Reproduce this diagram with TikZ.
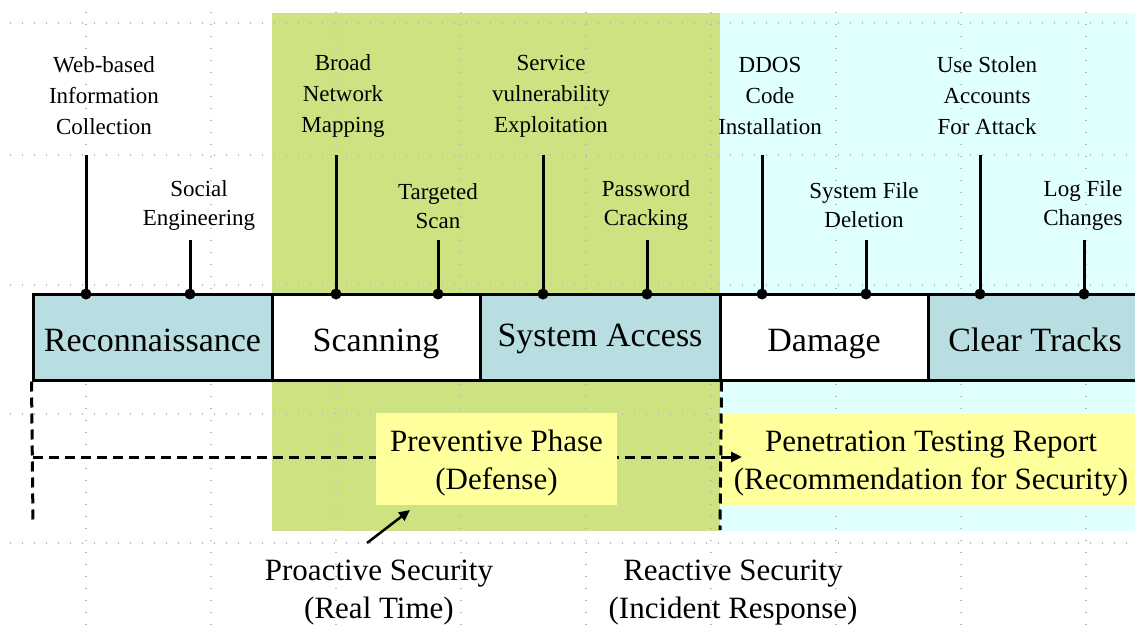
\documentclass[tikz,border=0pt]{standalone}
\usepackage{fontspec}
\setmainfont{Liberation Serif}
\usetikzlibrary{arrows.meta}
\definecolor{greenbg}{RGB}{205,227,130}
\definecolor{cyanbg}{RGB}{224,255,255}
\definecolor{phaseblue}{RGB}{185,222,226}
\definecolor{yellowbox}{RGB}{255,255,155}
\definecolor{gridgray}{RGB}{185,185,185}
\begin{document}
\begin{tikzpicture}[x=1pt,y=-1pt,
 phase/.style={draw=black,line width=3pt,minimum height=86pt,inner sep=0pt,
   font=\fontsize{34}{40}\selectfont,text height=28pt,text depth=0pt},
 toplbl/.style={align=center,font=\fontsize{23}{31}\selectfont,inner sep=0pt},
 lowlbl/.style={align=center,font=\fontsize{23}{29}\selectfont,inner sep=0pt},
 tickline/.style={line width=3pt},
 gridline/.style={gridgray,line width=1.3pt,dash pattern=on 1.3pt off 10.7pt},
 dashline/.style={line width=3pt,dash pattern=on 10pt off 6pt},
 ybox/.style={fill=yellowbox,inner sep=0pt,align=center,font=\fontsize{31}{38}\selectfont,
   minimum height=92pt},
 seclbl/.style={align=center,font=\fontsize{31}{38}\selectfont,inner sep=0pt}]

\useasboundingbox (0,0) rectangle (1135,631);
\fill[white] (0,0) rectangle (1135,631);

% backgrounds
\fill[greenbg] (272,13) rectangle (720,531);
\fill[cyanbg] (720,13) rectangle (1135,531);

% grid
\foreach \y in {23,155,285,414,543} \draw[gridline] (10,\y) -- (1135,\y);
\foreach \x in {86,211,336,461,586,711,836,961,1086} \draw[gridline] (\x,12) -- (\x,631);

% ticks
\foreach \i/\x/\t in {1/86/155,2/190/240,3/336/155,4/438/240,5/543/155,6/647/240,7/762/155,8/866/240,9/980/155,10/1084/240}{
  \coordinate (ta\i) at (\x,\t);
  \coordinate (tb\i) at (\x,294);
  \draw[tickline] (ta\i) -- (tb\i);
}

% phase boxes
\node[phase,fill=phaseblue,minimum width=239pt] (recon) at (152.5,337) {Reconnaissance};
\node[phase,fill=white,minimum width=208pt] (scan) at (376,337) {Scanning};
\node[phase,fill=phaseblue,minimum width=240pt,text height=18pt] (sys) at (600,337) {System Access};
\node[phase,fill=white,minimum width=208pt] (dmg) at (824,337) {Damage};
\node[phase,fill=phaseblue,minimum width=214pt] (clear) at (1035,337) {Clear Tracks};

\foreach \i in {1,...,10} \fill (tb\i) circle (5.5);

% tick labels
\node[toplbl] (l1) at (104,96) {Web-based\\Information\\Collection};
\node[lowlbl] (l2) at (199,206) {Social\\Engineering};
\node[toplbl] (l3) at (343,96) {Broad\\Network\\Mapping};
\node[lowlbl] (l4) at (438,206) {Targeted\\Scan};
\node[toplbl] (l5) at (551,96) {Service\\vulnerability\\Exploitation};
\node[lowlbl] (l6) at (646,206) {Password\\Cracking};
\node[toplbl] (l7) at (770,96) {DDOS\\Code\\Installation};
\node[lowlbl] (l8) at (864,205) {System File\\Deletion};
\node[toplbl] (l9) at (987,96) {Use Stolen\\Accounts\\For Attack};
\node[lowlbl] (l10) at (1083,206) {Log File\\Changes};

% report box
\node[ybox,minimum width=422pt] (pen) at (931,459) {\rule{0pt}{29pt}Penetration Testing Report\\(Recommendation for Security)};

% dashed lines
\coordinate (dA) at (33,522);
\coordinate (dB) at (33,457);
\coordinate (dC) at (742,457);
\coordinate (dD) at (720,530);
\draw[dashline] (recon.south west) -- (dA);
\draw[dashline,-{Triangle[length=11pt,width=10pt]}] (dB) -- (dC);

% preventive box
\node[ybox,minimum width=241pt] (prev) at (496.5,459) {\rule{0pt}{29pt}Preventive Phase\\(Defense)};

\draw[dashline] (sys.south east) -- (dD);

% security labels
\node[seclbl] (pro) at (379,593) {Proactive Security\\(Real Time)};
\node[seclbl] (rea) at (733,593) {Reactive Security\\(Incident Response)};

\coordinate (pa) at (367,543);
\coordinate (pb) at (410,510);
\draw[line width=2.5pt,-{Triangle[length=11pt,width=10pt]}] (pa) -- (pb);
\end{tikzpicture}
\end{document}
